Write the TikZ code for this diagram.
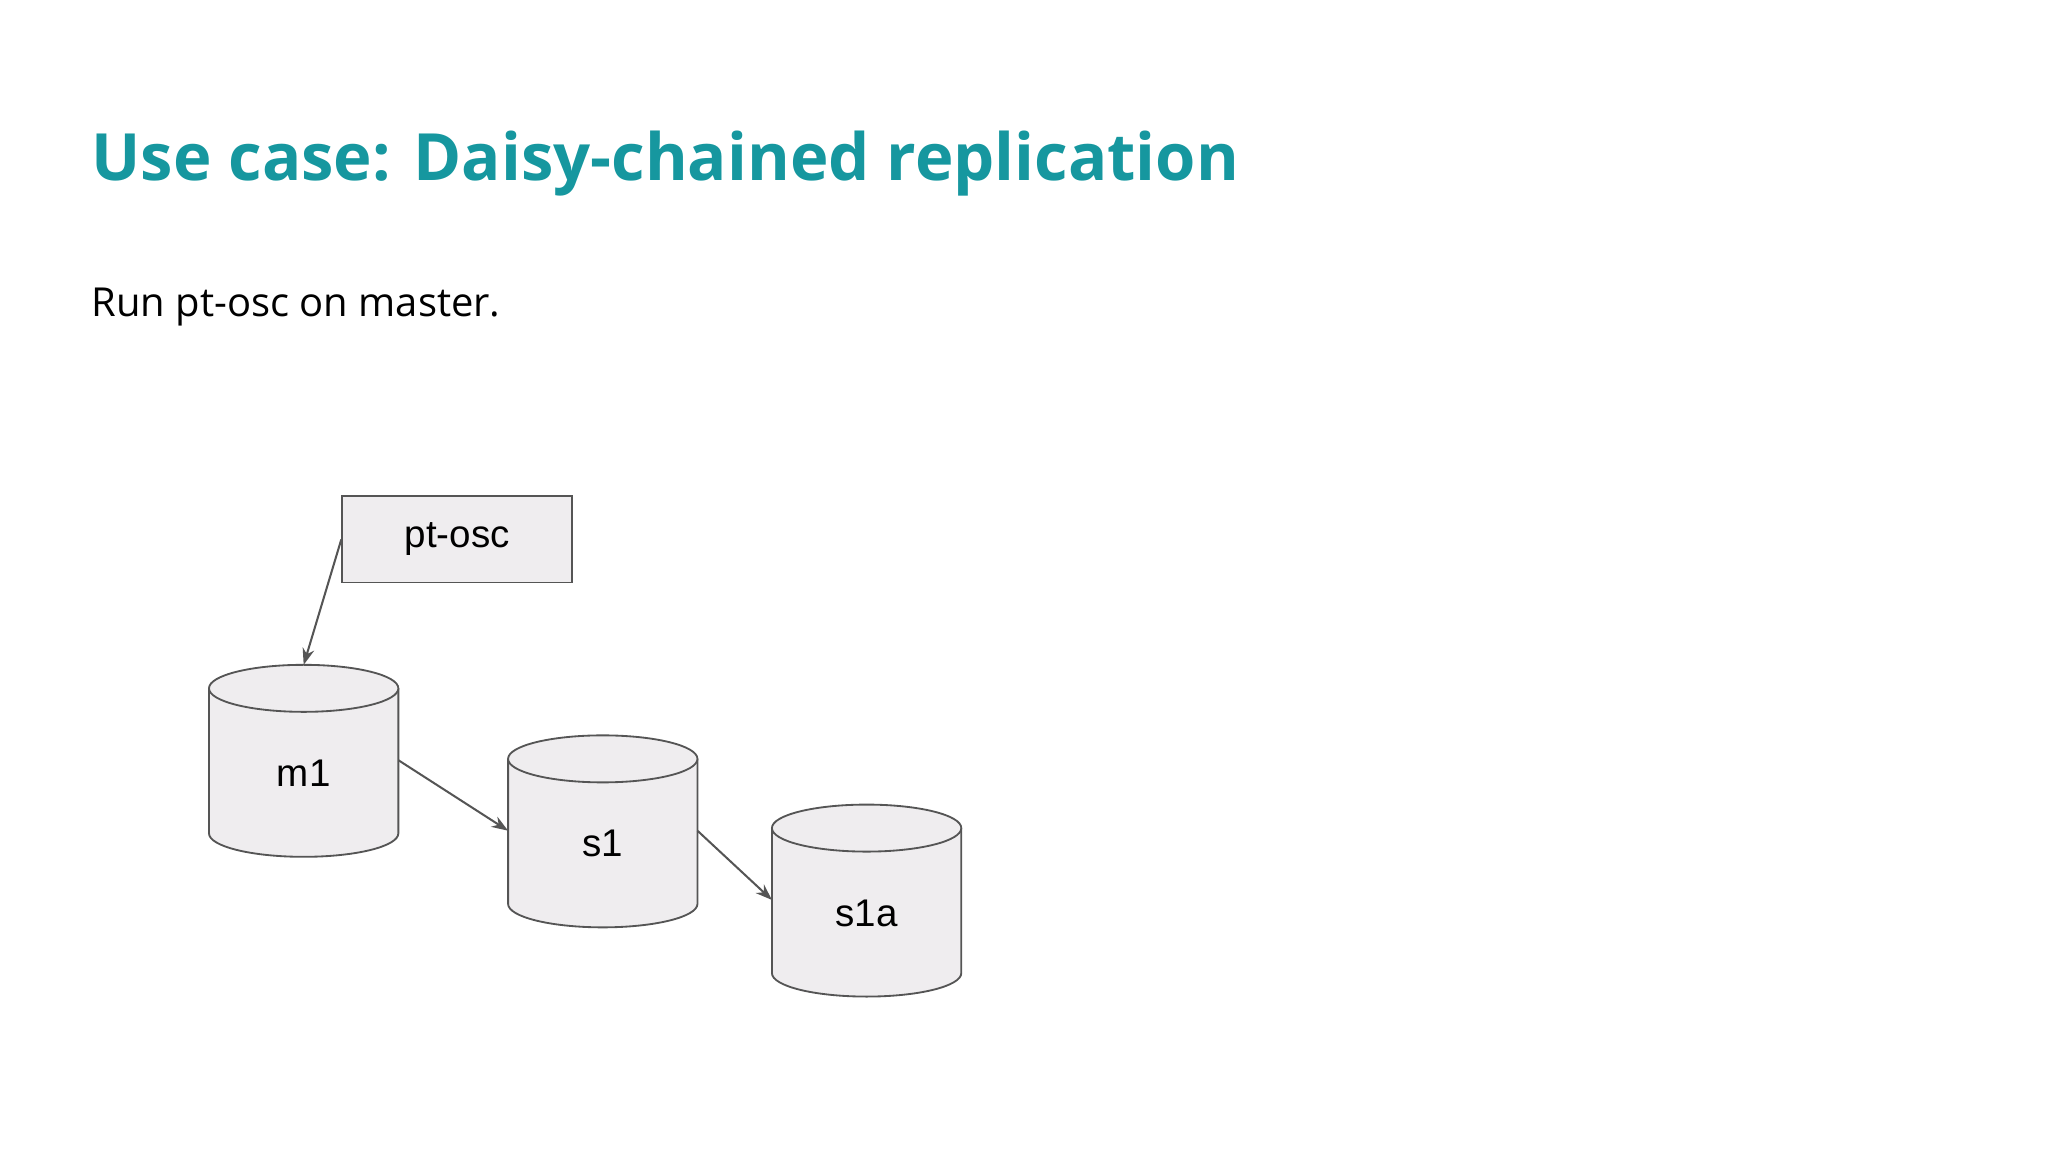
\documentclass[tikz,border=0pt]{standalone}
\usepackage{fontspec}
\setmainfont{Liberation Sans}
\newfontfamily\titlefont{Open Sans}
\usetikzlibrary{arrows.meta}
\definecolor{teal}{HTML}{16979F}
\definecolor{cylfill}{HTML}{EFEDEF}
\definecolor{edge}{HTML}{555555}
\tikzset{
  cyl/.style={draw=edge, fill=cylfill, line width=2pt},
  conn/.style={draw=edge, line width=2.2pt, -{Stealth[length=18pt,width=13pt]}},
  lbl/.style={font=\fontsize{42}{50}\selectfont, text=black}
}
\newcommand{\mycyl}[4]{% name, left x, top center y, label
  \fill[cylfill] (#2,#3) -- (#2,#3+111) arc[start angle=180,end angle=0,x radius=72.5,y radius=18] -- (#2+145,#3) -- cycle;
  \draw[cyl] (#2,#3) -- (#2,#3+111) arc[start angle=180,end angle=0,x radius=72.5,y radius=18] -- (#2+145,#3);
  \draw[cyl] (#2+72.5,#3) ellipse[x radius=72.5,y radius=18];
  \node[lbl] (#1) at (#2+72.5,#3+65) {#4};
  \coordinate (#1top) at (#2+72.5,#3-18);
  \coordinate (#1l) at (#2,#3+55);
  \coordinate (#1r) at (#2+145,#3+55);
}
\begin{document}
\begin{tikzpicture}[x=0.5mm,y=-0.5mm]
\useasboundingbox (0,0) rectangle (1568,882);
\node[anchor=base west, inner sep=0, text=teal, font=\titlefont\bfseries\fontsize{71}{85}\selectfont] (title) at (70,138) {Use case: Daisy-chained replication};
\node[anchor=base west, inner sep=0, font=\titlefont\fontsize{43.5}{50}\selectfont] (sub) at (70,242) {Run pt-osc on master.};
\node[draw=edge, fill=cylfill, line width=2pt, minimum width=176*0.5mm, minimum height=66*0.5mm, lbl] (pt) at (350,413) {pt-osc};
\mycyl{m1}{160}{527}{m1}
\mycyl{s1}{389}{581}{s1}
\mycyl{s1a}{591}{634}{s1a}
\draw[conn] (pt.west) -- (m1top);
\draw[conn] (m1r) -- (s1l);
\draw[conn] (s1r) -- (s1al);
\end{tikzpicture}
\end{document}
